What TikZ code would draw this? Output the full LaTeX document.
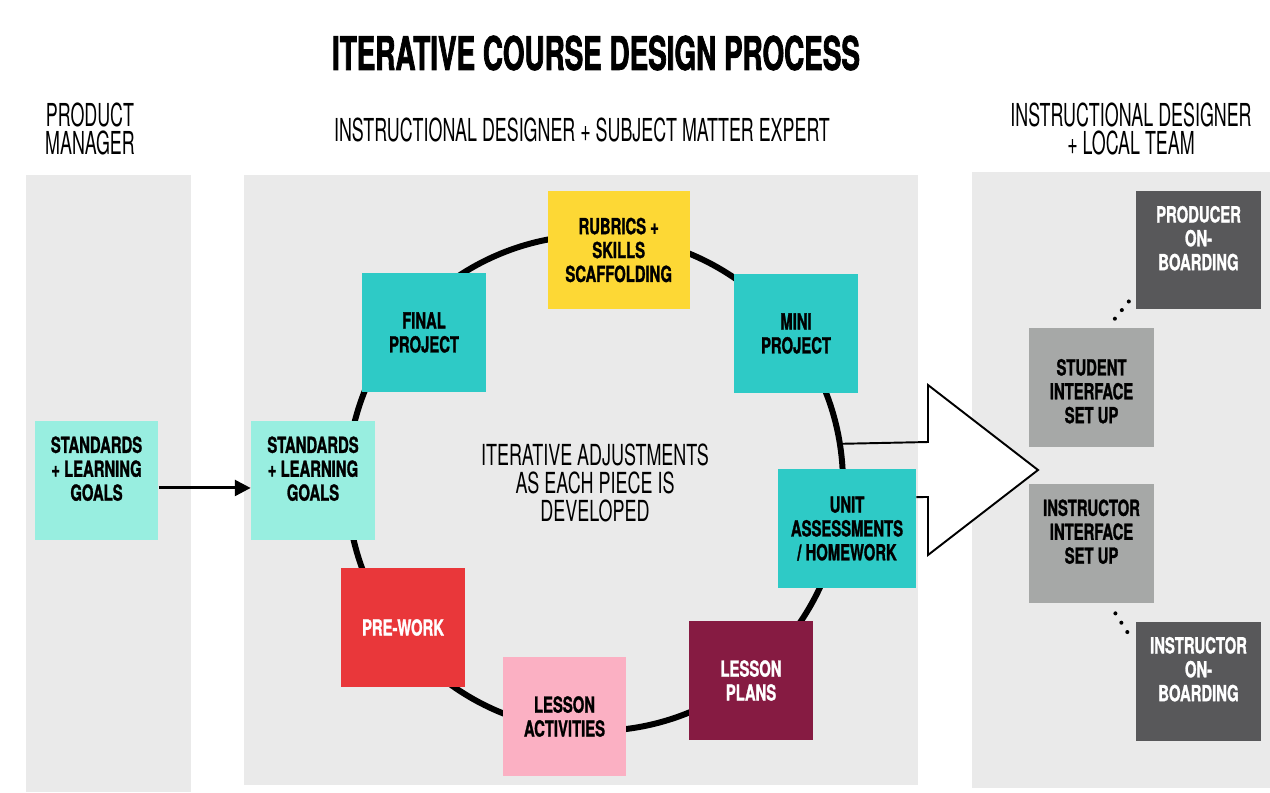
\documentclass[tikz,border=0pt]{standalone}
\usepackage{fontspec}
\setmainfont{TeX Gyre Heros}[FakeStretch=0.62]
\newfontfamily\headfont{TeX Gyre Heros}[FakeStretch=0.565]
\newfontfamily\piecefont{TeX Gyre Heros}[FakeStretch=0.67, FakeBold=1.2]
\newfontfamily\titlefont{TeX Gyre Heros}[FakeStretch=0.60, FakeBold=1.5]
\usetikzlibrary{arrows.meta}
\pgfdeclarelayer{background}
\pgfsetlayers{background,main}
\definecolor{panel}{HTML}{EAEAEA}
\definecolor{mint}{HTML}{98EEE0}
\definecolor{teal}{HTML}{2ECAC6}
\definecolor{sun}{HTML}{FDD835}
\definecolor{coral}{HTML}{E9373A}
\definecolor{blush}{HTML}{FBB0C3}
\definecolor{wine}{HTML}{861B42}
\definecolor{stone}{HTML}{A6A8A7}
\definecolor{slate}{HTML}{58585A}
\tikzstyle{piece}=[inner sep=0pt, minimum width=2.48cm, minimum height=2.38cm,
	align=center, font=\piecefont\bfseries\fontsize{12.6}{13.6}\selectfont]
\tikzstyle{heading}=[align=center, font=\headfont\fontsize{18}{16.4}\selectfont]
\tikzstyle{ring}=[draw, circle, line width=3.4pt, inner sep=0pt, minimum size=9.92cm,
	align=center, font=\fontsize{16.5}{15.9}\selectfont]
\tikzstyle{line}=[draw, line width=1.7pt, -{Triangle[length=9pt,width=9pt]}]
\tikzstyle{dots}=[draw, line width=2.3pt, line cap=round, dash pattern=on 0pt off 6.3pt]
\tikzstyle{bigarrow}=[draw, line width=1.1pt]
\newcommand{\piece}[3]{node (#1) [piece, #2]
	{#3}}

\begin{document}
\begin{tikzpicture}[x=0.02cm, y=-0.02cm]
	\useasboundingbox (0,0) rectangle (1270,792);

	% Column panels
	\begin{pgfonlayer}{background}
		\fill[panel] (26,175) rectangle (191,792);
		\fill[panel] (244,175) rectangle (918,785);
		\fill[panel] (972,172) rectangle (1270,788);
	\end{pgfonlayer}

	\node (title) [font=\titlefont\bfseries\fontsize{26.4}{30}\selectfont] at (596,53) {ITERATIVE COURSE DESIGN PROCESS};
	\node (pm) [heading] at (90,129) {PRODUCT\\MANAGER};
	\node (idsme) [heading] at (582,130) {INSTRUCTIONAL DESIGNER + SUBJECT MATTER EXPERT};
	\node (idlt) [heading] at (1131,129) {INSTRUCTIONAL DESIGNER\\+ LOCAL TEAM};

	% The cycle
	\node (cycle) [ring] at (595,483) {ITERATIVE ADJUSTMENTS\\AS EACH PIECE IS\\DEVELOPED};

	\path (96.5,480.5) \piece{goalsA}{fill=mint}{STANDARDS\\+ LEARNING\\GOALS\\~};
	\path (313,480.5) \piece{goalsB}{fill=mint}{STANDARDS\\+ LEARNING\\GOALS\\~};
	\path (618.7,250) \piece{rubrics}{fill=sun, minimum width=2.84cm}{RUBRICS +\\SKILLS\\SCAFFOLDING};
	\path (424,332.5) \piece{final}{fill=teal}{FINAL\\PROJECT};
	\path (796,333.5) \piece{mini}{fill=teal}{MINI\\PROJECT};
	\path (847,528.5) \piece{unit}{fill=teal, minimum width=2.76cm}{UNIT\\ASSESSMENTS\\/ HOMEWORK};
	\path (751,680.5) \piece{plans}{fill=wine, text=white}{LESSON\\PLANS};
	\path (564.5,716.5) \piece{acts}{fill=blush}{LESSON\\ACTIVITIES};
	\path (403,627.5) \piece{prework}{fill=coral, text=white}{PRE-WORK};

	\path (1091.5,387.5) \piece{student}{fill=stone, minimum width=2.5cm}{~\\STUDENT\\INTERFACE\\SET UP};
	\path (1091.5,543.5) \piece{instr}{fill=stone, minimum width=2.5cm}{INSTRUCTOR\\INTERFACE\\SET UP\\~};
	\path (1198.5,250) \piece{producer}{fill=slate, text=white, minimum width=2.5cm}{PRODUCER\\ON-\\BOARDING\\~};
	\path (1198.5,681) \piece{onboard}{fill=slate, text=white, minimum width=2.5cm}{INSTRUCTOR\\ON-\\BOARDING\\~};

	% Arrows and links
	\path [line] ([yshift=-4.25pt]goalsA.east) -- ([yshift=-4.25pt]goalsB.west);

	\fill[white] (918,442) -- (928,442) -- (928,385) -- (1038,470) -- (928,555) -- (928,497) -- (918,497) -- cycle;
	\path [bigarrow] (cycle.9.5) -- (928,442) -- (928,385) -- (1038,470)
		-- (928,555) -- (928,497) -- ([yshift=17.9pt]unit.east);

	\path [dots] ([xshift=13.3pt,yshift=5.1pt]student.north) -- ([yshift=9.6pt]producer.south west);
	\path [dots] ([xshift=13.6pt,yshift=-5.7pt]instr.south) -- ([xshift=-1.5pt,yshift=-11.3pt]onboard.north west);

\end{tikzpicture}
\end{document}
